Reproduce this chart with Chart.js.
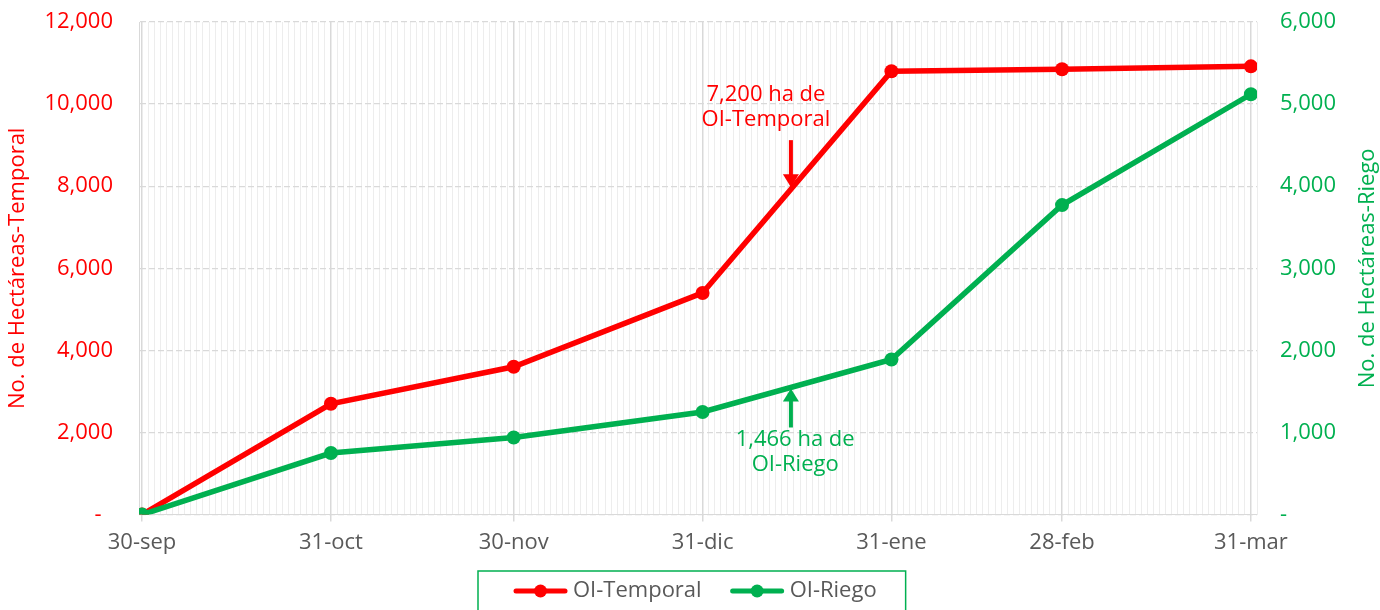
<!DOCTYPE html>
<html><head><meta charset="utf-8">
<script src="https://cdn.jsdelivr.net/npm/chart.js@4.4.1/dist/chart.umd.min.js"></script>
<style>html,body{margin:0;padding:0;background:#fff;}#wrap{width:1380px;height:610px;position:relative;}</style>
</head><body><div id="wrap"><canvas id="c" width="1380" height="610"></canvas></div>
<script>
// Days since 30-sep for each category
const categories = ['30-sep','31-oct','30-nov','31-dic','31-ene','28-feb','31-mar'];
const categoryDays = [0, 31, 61, 92, 123, 151, 182];
const temporal = [0, 2700, 3600, 5400, 10800, 10850, 10920];
const riego = [0, 750, 940, 1250, 1890, 3770, 5120];
const leftTicks = [0, 2000, 4000, 6000, 8000, 10000, 12000];
const rightTicks = [0, 1000, 2000, 3000, 4000, 5000, 6000];
const seriesNames = ['OI-Temporal', 'OI-Riego'];
const leftTitle = 'No. de Hectáreas-Temporal';
const rightTitle = 'No. de Hectáreas-Riego';
const annTemporal = {day: 106.5, tip: 7976, tail: 9122, text: ['7,200 ha de', 'OI-Temporal'], textDay: 102.4, textY: 10219};
const annRiego = {day: 106.5, tip: 1537, tail: 1061, text: ['1,466 ha de', 'OI-Riego'], textDay: 107.2, textY: 915};

const RED = '#FF0000', GREEN = '#00B050', GREY = '#595959';
const FONT = "'Open Sans', 'DejaVu Sans', sans-serif";
const FS = 22;

function fmt(v, pad){ return v === 0 ? (pad ? '-  ' : '-') : v.toLocaleString('en-US'); }

const annPlugin = {
  id: 'ann',
  afterDatasetsDraw(chart){
    const ctx = chart.ctx, x = chart.scales.x, yl = chart.scales.y, yr = chart.scales.y2;
    function arrow(px, y0, y1, color){
      const dir = y1 > y0 ? 1 : -1;
      ctx.save();
      ctx.strokeStyle = color; ctx.fillStyle = color; ctx.lineWidth = 4;
      ctx.beginPath(); ctx.moveTo(px, y0); ctx.lineTo(px, y1 - dir*11); ctx.stroke();
      ctx.beginPath(); ctx.moveTo(px, y1); ctx.lineTo(px-8, y1 - dir*13); ctx.lineTo(px+8, y1 - dir*13); ctx.closePath(); ctx.fill();
      ctx.restore();
    }
    function text(lines, px, py, color){
      ctx.save();
      ctx.fillStyle = color; ctx.font = FS + 'px ' + FONT; ctx.textAlign = 'center'; ctx.textBaseline = 'middle';
      lines.forEach((l,i)=>ctx.fillText(l, px, py + i*25));
      ctx.restore();
    }
    arrow(x.getPixelForValue(annTemporal.day), yl.getPixelForValue(annTemporal.tail), yl.getPixelForValue(annTemporal.tip), RED);
    text(annTemporal.text, x.getPixelForValue(annTemporal.textDay), yl.getPixelForValue(annTemporal.textY), RED);
    arrow(x.getPixelForValue(annRiego.day), yr.getPixelForValue(annRiego.tail), yr.getPixelForValue(annRiego.tip), GREEN);
    text(annRiego.text, x.getPixelForValue(annRiego.textDay), yr.getPixelForValue(annRiego.textY), GREEN);
  },
  afterDraw(chart){
    const ctx = chart.ctx, ca = chart.chartArea;
    // axis titles (both read bottom-to-top)
    ctx.save();
    ctx.font = FS + 'px ' + FONT; ctx.textAlign = 'center'; ctx.textBaseline = 'middle';
    const cy = (ca.top + ca.bottom) / 2;
    ctx.save(); ctx.translate(18, cy); ctx.rotate(-Math.PI/2); ctx.fillStyle = RED; ctx.fillText(leftTitle, 0, 0); ctx.restore();
    ctx.save(); ctx.translate(chart.width - 12, cy); ctx.rotate(-Math.PI/2); ctx.fillStyle = GREEN; ctx.fillText(rightTitle, 0, 0); ctx.restore();
    ctx.restore();
    // legend
    const colors = [RED, GREEN];
    ctx.save();
    ctx.font = FS + 'px ' + FONT; ctx.textBaseline = 'middle'; ctx.textAlign = 'left';
    const iconW = 55, gapIT = 5, gapItems = 28, padL = 35, padR = 29;
    const widths = seriesNames.map(n => ctx.measureText(n).width);
    const total = padL + widths.reduce((a,w)=>a + iconW + gapIT + w, 0) + gapItems*(seriesNames.length-1) + padR;
    const left = Math.round(chart.width/2 - total/2 + 2);
    const top = 571, ty = 591;
    ctx.strokeStyle = GREEN; ctx.lineWidth = 1.5;
    ctx.strokeRect(left, top, total, 60);
    let px = left + padL;
    seriesNames.forEach((n,i)=>{
      ctx.strokeStyle = colors[i]; ctx.lineWidth = 5; ctx.lineCap = 'round';
      ctx.beginPath(); ctx.moveTo(px + 3, ty); ctx.lineTo(px + iconW - 3, ty); ctx.stroke();
      ctx.fillStyle = colors[i]; ctx.beginPath(); ctx.arc(px + iconW/2, ty, 6.5, 0, Math.PI*2); ctx.fill();
      px += iconW + gapIT;
      ctx.fillStyle = GREY; ctx.fillText(n, px, ty);
      px += widths[i] + gapItems;
    });
    ctx.restore();
  }
};

const catMap = {}; categoryDays.forEach((d,i)=>catMap[d]=categories[i]);
const isMajor = c => c.tick && catMap[c.tick.value] !== undefined;

new Chart(document.getElementById('c'), {
  type: 'line',
  data: {
    datasets: [
      {label: seriesNames[0], data: categoryDays.map((d,i)=>({x:d, y:temporal[i]})), borderColor: RED, backgroundColor: RED, borderWidth: 5.5, pointRadius: 7, pointBackgroundColor: RED, pointBorderWidth: 0, yAxisID: 'y', order: 2},
      {label: seriesNames[1], data: categoryDays.map((d,i)=>({x:d, y:riego[i]})), borderColor: GREEN, backgroundColor: GREEN, borderWidth: 5.5, pointRadius: 7, pointBackgroundColor: GREEN, pointBorderWidth: 0, yAxisID: 'y2', order: 1}
    ]
  },
  options: {
    responsive: false, animation: false,
    layout: {padding: {left: 0, right: 0, top: 22, bottom: 46}},
    plugins: { tooltip: {enabled: false}, legend: {display: false} },
    scales: {
      x: {
        type: 'linear', min: -0.5, max: 183,
        afterBuildTicks(s){ const t=[]; for(let i=0;i<=183;i++) t.push({value:i}); s.ticks = t; },
        afterFit(s){ s.paddingLeft = 0; s.paddingRight = 0; },
        ticks: {autoSkip: false, maxRotation: 0, color: GREY, font: {family: FONT, size: FS}, padding: 8,
          callback: v => catMap[v] || ''},
        grid: {
          color: c => isMajor(c) ? '#d9d9d9' : '#ededed',
          lineWidth: c => isMajor(c) ? 1.5 : 1,
          tickColor: c => isMajor(c) ? '#d9d9d9' : 'rgba(0,0,0,0)',
          tickLength: 7
        },
        border: {color: '#d9d9d9'}
      },
      y: {
        position: 'left', min: 0, max: 12000,
        afterBuildTicks(s){ s.ticks = leftTicks.map(v=>({value:v})); },
        afterFit(s){ s.width = 139; s.paddingTop = 0; s.paddingBottom = 0; },
        ticks: {color: RED, font: {family: FONT, size: FS}, padding: 26, callback: v => fmt(v, true)},
        grid: {color: '#d9d9d9', lineWidth: 1.2, drawTicks: false},
        border: {dash: [6,3], color: '#d9d9d9'}
      },
      y2: {
        position: 'right', min: 0, max: 6000,
        afterBuildTicks(s){ s.ticks = rightTicks.map(v=>({value:v})); },
        afterFit(s){ s.width = 123; s.paddingTop = 0; s.paddingBottom = 0; },
        ticks: {color: GREEN, font: {family: FONT, size: FS}, padding: 23, callback: v => fmt(v, false)},
        grid: {drawOnChartArea: false, drawTicks: false},
        border: {display: false}
      }
    }
  },
  plugins: [annPlugin]
});
</script></body></html>
